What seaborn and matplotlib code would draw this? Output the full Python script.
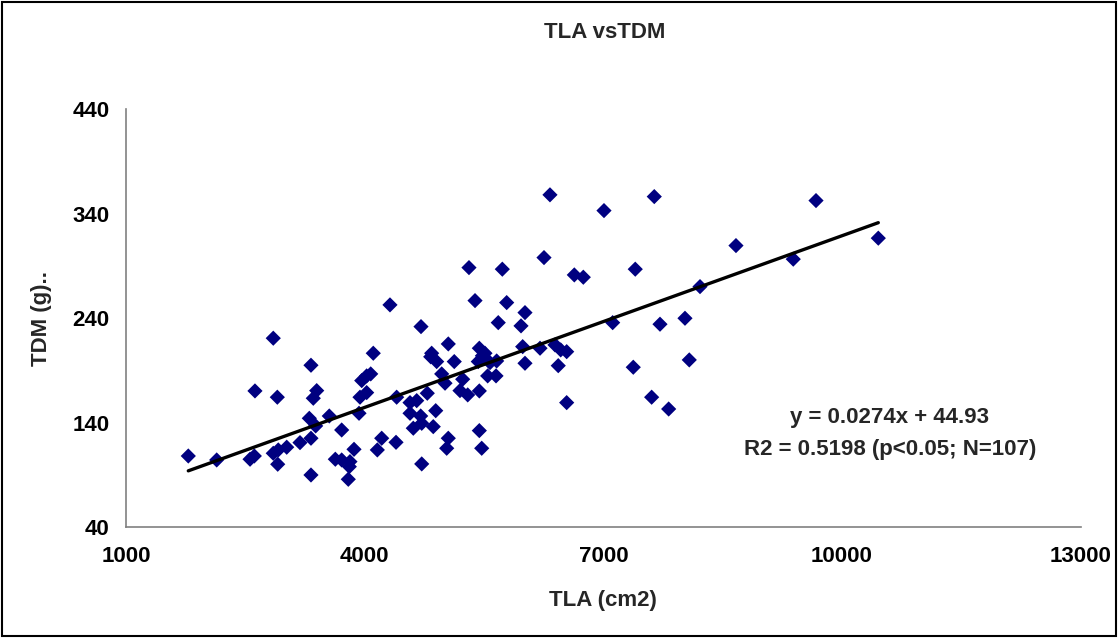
import matplotlib
matplotlib.use("Agg")
import matplotlib.pyplot as plt
import seaborn as sns
import numpy as np
import pandas as pd
from matplotlib.patches import Rectangle

# ---- data ----
tla = [1783, 2140, 2851, 2621, 2902, 2559, 2613, 2851, 2914, 3020,
       2907, 3187, 3325, 3325, 3397, 3354, 3304, 3384, 3325, 3555,
       3711, 3631, 3711, 3815, 3807, 3866, 3794, 4318, 4108, 3963,
       4025, 4076, 3941, 4025, 3929, 4214, 4159, 4394, 4402, 4708,
       4842, 4905, 4570, 4654, 4787, 4570, 4704, 4717, 4611, 4862,
       4893, 4717, 4968, 5010, 5051, 5051, 5031, 6329, 7640, 7008,
       8667, 5311, 5730, 6254, 6635, 6748, 7401, 5387, 5785, 6015,
       5679, 5965, 7117, 7712, 8026, 8215, 5126, 5441, 5512, 5428,
       5575, 5659, 5986, 6204, 6392, 6464, 6539, 6015, 6433, 5232,
       5546, 5651, 5198, 5295, 5441, 7376, 8080, 6539, 7607, 7821,
       5441, 5471, 9673, 10456, 9387, 4830, 5480]
tdm = [108.0, 104.2, 220.8, 170.3, 164.3, 104.9, 108.0, 110.6, 113.8, 116.4,
       100.1, 120.8, 125.0, 194.9, 170.6, 163.3, 144.1, 136.8, 89.8, 146.3,
       132.9, 104.9, 104.2, 102.6, 97.8, 114.4, 85.7, 252.7, 206.4, 180.2,
       184.7, 186.6, 164.3, 168.7, 148.9, 125.0, 113.8, 121.1, 164.3, 231.9,
       206.4, 198.4, 159.1, 161.0, 168.1, 148.9, 146.3, 139.3, 134.6, 136.1,
       151.4, 100.4, 186.6, 177.7, 215.3, 125.0, 115.4, 358.1, 356.4, 343.0,
       309.5, 288.4, 286.9, 298.0, 281.4, 279.2, 286.9, 256.8, 254.9, 245.3,
       235.7, 232.6, 235.7, 234.2, 239.9, 270.2, 198.4, 211.2, 206.4, 198.4,
       197.4, 199.0, 212.7, 211.2, 214.4, 209.6, 207.9, 196.8, 194.5, 181.5,
       184.7, 184.7, 170.6, 166.5, 170.3, 193.0, 200.0, 159.1, 164.3, 153.0,
       132.3, 115.4, 352.6, 316.6, 296.5, 203.0, 204.0]

slope = 0.0274
intercept = 44.93
x_ticks = [1000, 4000, 7000, 10000, 13000]
y_ticks = [40, 140, 240, 340, 440]

title = "TLA vsTDM"
xlabel = "TLA (cm2)"
ylabel = "TDM (g).."
eq_text = "y = 0.0274x + 44.93"
r2_text = "R2 = 0.5198 (p<0.05; N=107)"

df = pd.DataFrame({"TLA": tla, "TDM": tdm})
fit = pd.DataFrame({"TLA": [min(tla), max(tla)]})
fit["TDM"] = slope * fit["TLA"] + intercept

sns.set_theme(style="white")
plt.rcParams["font.family"] = ["Liberation Sans", "DejaVu Sans"]
plt.rcParams["font.weight"] = "bold"

FS = 16

fig = plt.figure(figsize=(11.18, 6.38), dpi=100)
ax = fig.add_axes([126 / 1118, 111 / 638, 954.7 / 1118, 417.7 / 638])

sns.scatterplot(data=df, x="TLA", y="TDM", ax=ax, marker="D", s=60,
                color="#000080", edgecolor="none", linewidth=0, zorder=3)
sns.lineplot(data=fit, x="TLA", y="TDM", ax=ax, color="black",
             linewidth=2.4, zorder=4)

ax.set_xlim(1000, 13000)
ax.set_ylim(40, 440)
ax.set_xticks(x_ticks)
ax.set_yticks(y_ticks)
ax.set_xticklabels([str(t) for t in x_ticks], fontsize=FS, fontweight="bold")
ax.set_yticklabels([str(t) for t in y_ticks], fontsize=FS, fontweight="bold")
ax.tick_params(axis="both", direction="out", length=4, width=1,
               color="#404040", labelcolor="black")
ax.tick_params(axis="x", pad=10)
ax.tick_params(axis="y", pad=8)

for side in ["top", "right"]:
    ax.spines[side].set_visible(False)
for side in ["left", "bottom"]:
    ax.spines[side].set_color("#808080")
    ax.spines[side].set_linewidth(1.2)

ax.set_xlabel(xlabel, fontsize=FS, fontweight="bold", va="center")
ax.set_ylabel(ylabel, fontsize=FS, fontweight="bold", va="center")
ax.xaxis.set_label_coords(0.5, -0.175)
ax.yaxis.set_label_coords(-0.089, 0.5)

fig.text(605 / 1118, 1 - 32 / 638, title, ha="center", va="center",
         fontsize=FS, fontweight="bold")
fig.text(890 / 1118, 1 - 418 / 638, eq_text, ha="center", va="center",
         fontsize=FS, fontweight="bold")
fig.text(890 / 1118, 1 - 449 / 638, r2_text, ha="center", va="center",
         fontsize=FS, fontweight="bold")

fig.patches.append(Rectangle((0.002, 0.003), 0.996, 0.994,
                             transform=fig.transFigure, fill=False,
                             edgecolor="black", linewidth=1.5))

fig.savefig("out.png", dpi=100)
